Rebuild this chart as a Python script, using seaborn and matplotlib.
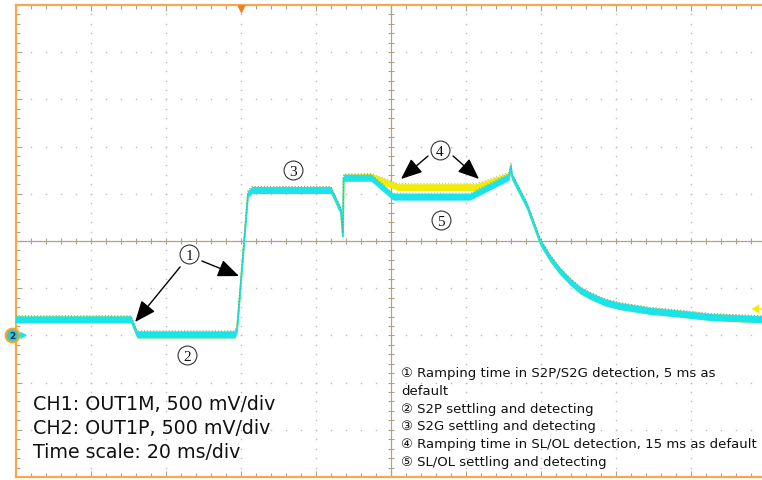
import numpy as np
import matplotlib
matplotlib.use("Agg")
import matplotlib.pyplot as plt
import seaborn as sns
from matplotlib.transforms import blended_transform_factory

# ---- acquisition settings -------------------------------------------------
TIME_PER_DIV = 20.0     # ms / div
VOLT_PER_DIV = 0.5      # V / div
H_DIVS = 10
V_DIVS = 10
CH2_GROUND_DIVS = 2     # CH2 ground sits two divisions below screen centre

# ---- captured traces (time in ms, level in V referred to CH2 ground) ------
ch2_time = [0.0, 30.8, 32.4, 58.5, 59.1, 62.0, 63.1, 84.1, 86.8, 87.3, 87.5,
            94.8, 100.7, 121.2, 131.6, 132.1, 132.4, 136.4, 139.9, 142.5,
            145.2, 147.9, 150.5, 153.2, 157.2, 161.2, 169.2, 177.2, 185.2,
            199.2]
ch2_volt = [0.17, 0.17, 0.01, 0.01, 0.07, 1.50, 1.54, 1.54, 1.31, 1.05, 1.67,
            1.67, 1.47, 1.47, 1.68, 1.79, 1.68, 1.37, 0.99, 0.82,
            0.68, 0.57, 0.48, 0.42, 0.35, 0.31, 0.26, 0.23, 0.195,
            0.17]

ch1_time = [0.0, 30.8, 32.4, 58.5, 59.1, 62.0, 63.1, 84.1, 86.8, 87.3, 87.5,
            94.8, 102.0, 122.8, 131.6, 132.1, 132.4, 136.4, 139.9, 142.5,
            145.2, 147.9, 150.5, 153.2, 157.2, 161.2, 169.2, 177.2, 185.2,
            199.2]
ch1_volt = [0.17, 0.17, 0.01, 0.01, 0.07, 1.50, 1.54, 1.54, 1.31, 1.05, 1.67,
            1.68, 1.57, 1.57, 1.69, 1.79, 1.68, 1.37, 0.99, 0.82,
            0.68, 0.57, 0.48, 0.42, 0.35, 0.31, 0.26, 0.23, 0.195,
            0.17]

# ---- annotation text ------------------------------------------------------
setup_lines = ["CH1: OUT1M, 500 mV/div",
               "CH2: OUT1P, 500 mV/div",
               "Time scale: 20 ms/div"]
legend_lines = ["\u2460 Ramping time in S2P/S2G detection, 5 ms as",
                "default",
                "\u2461 S2P settling and detecting",
                "\u2462 S2G settling and detecting",
                "\u2463 Ramping time in SL/OL detection, 15 ms as default",
                "\u2464 SL/OL settling and detecting"]

# ---- style ----------------------------------------------------------------
sns.set_style("white")
plt.rcParams["font.family"] = ["DejaVu Sans", "Noto Sans CJK JP"]

BORDER = "#F5A84E"
AXIS_TAN = "#AFA28C"
DOT_GREY = "#BEBEBE"
CYAN = "#1BE3EA"
YELLOW = "#F2EA08"
NOISE = 0.037           # half height of the noisy trace band, V

W, H = 762, 481
fig = plt.figure(figsize=(W / 100, H / 100), dpi=100)
fig.patch.set_facecolor("white")
# graticule: 75 px per horizontal division, right edge runs just past the frame
ax = fig.add_axes([15.5 / W, 3 / H, 750 / W, 472 / H])
ax.set_facecolor("white")

t_max = H_DIVS * TIME_PER_DIV
v_lo = -(V_DIVS / 2 - CH2_GROUND_DIVS) * VOLT_PER_DIV
v_hi = (V_DIVS / 2 + CH2_GROUND_DIVS) * VOLT_PER_DIV
v_mid = CH2_GROUND_DIVS * VOLT_PER_DIV
ax.set_xlim(0, t_max)
ax.set_ylim(v_lo, v_hi)

# frame
for side in ("left", "top", "bottom"):
    ax.spines[side].set_color(BORDER)
    ax.spines[side].set_linewidth(1.6)
ax.spines["right"].set_visible(False)

major_t = np.arange(0, t_max + 0.01, TIME_PER_DIV)
minor_t = np.arange(0, t_max + 0.01, TIME_PER_DIV / 5)
major_v = np.arange(v_lo, v_hi + 0.001, VOLT_PER_DIV)
minor_v = np.arange(v_lo, v_hi + 0.001, VOLT_PER_DIV / 5)
ax.set_xticks(major_t)
ax.set_xticks(minor_t, minor=True)
ax.set_yticks(major_v)
ax.set_yticks(minor_v, minor=True)
ax.tick_params(which="both", direction="in", top=True, bottom=True,
               left=True, right=False, labelbottom=False, labelleft=False,
               color=AXIS_TAN, width=0.8)
ax.tick_params(which="major", length=4.0)
ax.tick_params(which="minor", length=3.0)

# dotted graticule
gx, gy = [], []
for t in major_t[1:-1]:
    if abs(t - t_max / 2) < 1e-6:
        continue
    gx += [t] * len(minor_v)
    gy += list(minor_v)
for v in major_v[1:-1]:
    if abs(v - v_mid) < 1e-6:
        continue
    gx += list(minor_t)
    gy += [v] * len(minor_t)
ax.scatter(gx, gy, s=1.3, color=DOT_GREY, linewidths=0, zorder=1)

# centre cross with tick marks
ax.axhline(v_mid, color=AXIS_TAN, lw=0.9, zorder=1)
ax.axvline(t_max / 2, color=AXIS_TAN, lw=0.9, zorder=1)
ax.plot(minor_t, [v_mid] * len(minor_t), ls="none", marker="|",
        ms=4.5, mew=0.8, color=AXIS_TAN, zorder=1)
ax.plot([t_max / 2] * len(minor_v), minor_v, ls="none", marker="_",
        ms=4.5, mew=0.8, color=AXIS_TAN, zorder=1)

# traces: CH1 underneath, CH2 on top, each as a noisy band around its centre
def draw_trace(t, v, color, z):
    t = np.asarray(t)
    v = np.asarray(v)
    ax.fill_between(t, v - NOISE, v + NOISE, color=color, lw=0, zorder=z)
    sns.lineplot(x=t, y=v, color=color, lw=1.3, sort=False, estimator=None,
                 ax=ax, zorder=z)
    ax.plot(t, v + NOISE, color="#6E6A2A", lw=0.6, ls=(0, (1.2, 2.5)),
            alpha=0.55, zorder=z)

draw_trace(ch1_time, ch1_volt, YELLOW, 3)
draw_trace(ch2_time, ch2_volt, CYAN, 4)

# trigger position marker on the top edge
trig = blended_transform_factory(ax.transData, ax.transAxes)
ax.scatter([3 * TIME_PER_DIV], [0.9925], marker="v", s=38, color="#F07F1E",
           transform=trig, clip_on=False, zorder=6, linewidths=0)

# CH2 ground marker on the left edge
ax.scatter([-0.9], [0.0], s=95, marker="o", facecolor="#2FC9D4",
           edgecolor="#F5A623", linewidths=1.6, clip_on=False, zorder=7)
ax.text(-0.9, 0.0, "2", fontsize=6.5, fontweight="bold", color="#1B2F5E",
        ha="center", va="center", zorder=8, clip_on=False)
ax.annotate("", xy=(3.1, 0.0), xytext=(1.0, 0.0),
            arrowprops=dict(arrowstyle="-|>,head_length=0.35,head_width=0.2",
                            color=CYAN, lw=1.0, shrinkA=0, shrinkB=0,
                            mutation_scale=10), zorder=7)

# CH1 level marker on the right edge
ax.annotate("", xy=(196.3, 0.28), xytext=(199.5, 0.28),
            arrowprops=dict(arrowstyle="-|>,head_length=0.4,head_width=0.25",
                            color=YELLOW, lw=1.0, shrinkA=0, shrinkB=0,
                            mutation_scale=10), zorder=7)

# numbered callouts
callouts = [("1", 46.3, 0.86), ("2", 45.7, -0.21), ("3", 74.0, 1.75),
            ("4", 113.2, 1.96), ("5", 113.5, 1.22)]
for num, t, v in callouts:
    ax.scatter([t], [v], s=185, marker="o", facecolor="white",
               edgecolor="#333333", linewidths=0.8, zorder=8)
    ax.text(t, v, num, fontsize=11, family="Liberation Serif",
            color="#111111", ha="center", va="center_baseline", zorder=9)

arrows = [((43.9, 0.725), (31.9, 0.142)),
          ((49.7, 0.788), (59.6, 0.629)),
          ((110.0, 1.90), (102.8, 1.657)),
          ((116.7, 1.90), (123.6, 1.657))]
for start, tip in arrows:
    ax.annotate("", xy=tip, xytext=start,
                arrowprops=dict(arrowstyle="-|>,head_length=0.65,head_width=0.27",
                                color="black", lw=1.0, shrinkA=0, shrinkB=0,
                                mutation_scale=20), zorder=9)

# measurement setup text
for i, line in enumerate(setup_lines):
    fig.text(33 / W, 1 - (410 + 24 * i) / H, line, fontsize=13.7,
             color="#111111", ha="left", va="baseline")

# callout legend
for i, line in enumerate(legend_lines):
    fig.text(401 / W, 1 - (377 + 17.8 * i) / H, line, fontsize=9.5,
             color="#111111", ha="left", va="baseline")

fig.savefig("out.png", dpi=100, facecolor="white")
